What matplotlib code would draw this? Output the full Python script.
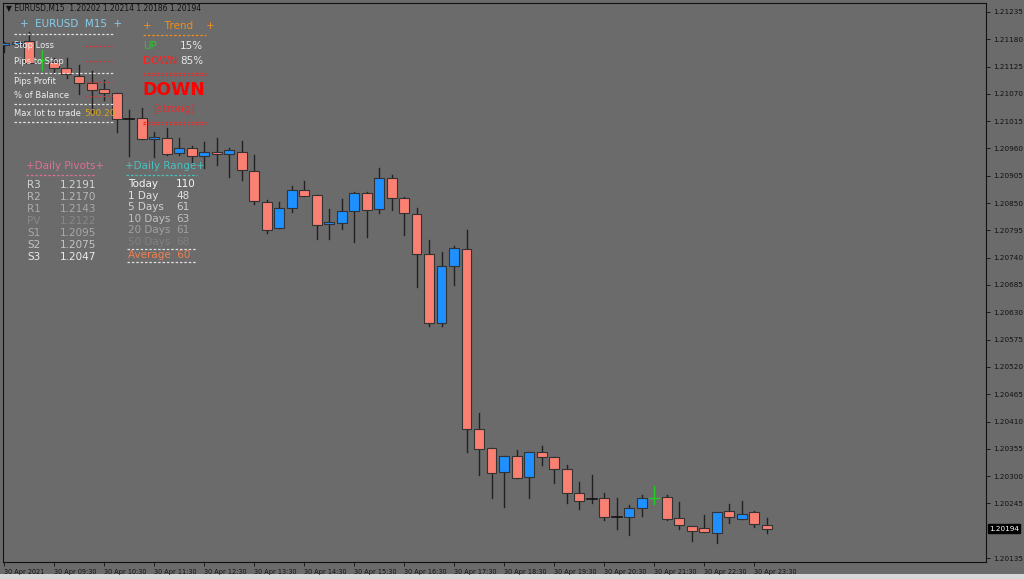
import matplotlib
matplotlib.use("Agg")
import matplotlib.pyplot as plt
from matplotlib.lines import Line2D
from matplotlib.patches import Rectangle

opens = [1.21169,1.21171,1.21177,1.21138,1.21134,1.21122,1.21106,1.21092,1.21080,1.21072,
         1.21019,1.21021,1.20979,1.20981,1.20951,1.20961,1.20945,1.20953,1.20949,1.20953,
         1.20915,1.20852,1.20800,1.20840,1.20876,1.20866,1.20808,1.20810,1.20834,1.20870,
         1.20838,1.20901,1.20860,1.20828,1.20748,1.20608,1.20723,1.20758,1.20395,1.20356,
         1.20308,1.20340,1.20298,1.20348,1.20338,1.20314,1.20266,1.20254,1.20256,1.20218,
         1.20218,1.20236,1.20256,1.20258,1.20216,1.20200,1.20196,1.20186,1.20230,1.20214,
         1.20228,1.20202]
highs = [1.21175,1.21177,1.21195,1.21158,1.21142,1.21142,1.21128,1.21116,1.21098,1.21072,
         1.21038,1.21042,1.20993,1.21001,1.20981,1.20965,1.20973,1.20981,1.20961,1.20975,
         1.20947,1.20856,1.20852,1.20884,1.20895,1.20866,1.20838,1.20858,1.20872,1.20872,
         1.20921,1.20907,1.20862,1.20840,1.20776,1.20752,1.20764,1.20796,1.20427,1.20356,
         1.20340,1.20352,1.20348,1.20360,1.20338,1.20322,1.20288,1.20302,1.20266,1.20256,
         1.20242,1.20262,1.20280,1.20262,1.20248,1.20200,1.20222,1.20228,1.20244,1.20250,
         1.20230,1.20216]
lows = [1.21154,1.21169,1.21132,1.21118,1.21114,1.21102,1.21070,1.21034,1.21058,1.20993,
        1.20945,1.20979,1.20943,1.20947,1.20947,1.20931,1.20921,1.20927,1.20903,1.20897,
        1.20848,1.20790,1.20800,1.20832,1.20864,1.20778,1.20778,1.20798,1.20772,1.20782,
        1.20830,1.20836,1.20786,1.20681,1.20602,1.20602,1.20685,1.20348,1.20302,1.20256,
        1.20238,1.20296,1.20256,1.20322,1.20286,1.20246,1.20234,1.20246,1.20212,1.20194,
        1.20182,1.20220,1.20244,1.20212,1.20194,1.20169,1.20188,1.20165,1.20206,1.20214,
        1.20198,1.20186]
closes = [1.21173,1.21175,1.21132,1.21138,1.21122,1.21110,1.21092,1.21078,1.21072,1.21019,
          1.21019,1.20979,1.20983,1.20949,1.20961,1.20945,1.20953,1.20949,1.20957,1.20917,
          1.20854,1.20796,1.20840,1.20876,1.20864,1.20806,1.20812,1.20834,1.20870,1.20836,
          1.20901,1.20860,1.20830,1.20748,1.20608,1.20723,1.20760,1.20395,1.20354,1.20306,
          1.20340,1.20296,1.20348,1.20338,1.20314,1.20266,1.20250,1.20254,1.20218,1.20218,
          1.20236,1.20256,1.20256,1.20214,1.20202,1.20190,1.20188,1.20228,1.20218,1.20224,
          1.20204,1.20194]
signal_bars = [3, 52]
time_labels = ["30 Apr 2021", "30 Apr 09:30", "30 Apr 10:30", "30 Apr 11:30", "30 Apr 12:30",
               "30 Apr 13:30", "30 Apr 14:30", "30 Apr 15:30", "30 Apr 16:30", "30 Apr 17:30",
               "30 Apr 18:30", "30 Apr 19:30", "30 Apr 20:30", "30 Apr 21:30", "30 Apr 22:30",
               "30 Apr 23:30"]
price_ticks = [1.21235,1.21180,1.21125,1.21070,1.21015,1.20960,1.20905,1.20850,1.20795,1.20740,
               1.20685,1.20630,1.20575,1.20520,1.20465,1.20410,1.20355,1.20300,1.20245,1.20135]
last_price = 1.20194
pivot_names = ["R3","R2","R1","PV","S1","S2","S3"]
pivot_values = ["1.2191","1.2170","1.2143","1.2122","1.2095","1.2075","1.2047"]
range_names = ["Today","1 Day","5 Days","10 Days","20 Days","50 Days"]
range_values = ["110","48","61","63","61","68"]

W, H = 1024, 579
fig = plt.figure(figsize=(W/100, H/100), dpi=100, facecolor="#6b6b6b")
fig.add_artist(Rectangle((0, 0), 1, 5/H, transform=fig.transFigure, fc="#d8d8d8", ec="none", zorder=-5))
ax = fig.add_axes([3/W, 1-562/H, 983/W, 559/H], facecolor="#6b6b6b")
ax.set_xlim(-0.08, 78.56)
ax.set_ylim(1.20127, 1.21253)
for s in ax.spines.values():
    s.set_color("#111111"); s.set_linewidth(0.8)

RED, BLUE, EDGE = "#fa8072", "#1e90ff", "#333333"
for i in range(len(opens)):
    o, h, l, c = opens[i], highs[i], lows[i], closes[i]
    if i in signal_bars:
        ax.plot([i, i], [l, h], color="#22cc22", lw=1.0, zorder=3)
        ax.plot([i-0.4, i+0.4], [o, o], color="#22cc22", lw=1.0, zorder=3)
        continue
    ax.plot([i, i], [l, h], color="#222222", lw=1.0, zorder=2)
    if o == c:
        ax.plot([i-0.4, i+0.4], [o, o], color="#111111", lw=1.2, zorder=3)
        continue
    col = BLUE if c > o else RED
    ax.add_patch(Rectangle((i-0.4, min(o, c)), 0.8, abs(c-o), facecolor=col,
                           edgecolor=EDGE, lw=0.8, zorder=3))

ax.yaxis.tick_right()
ax.set_yticks(price_ticks)
ax.set_yticklabels([f"{p:.5f}" for p in price_ticks], fontsize=5.2, color="#111111")
ax.set_xticks(list(range(0, 4*len(time_labels), 4)))
ax.set_xticklabels(time_labels, fontsize=4.7, color="#111111", ha="left")
ax.tick_params(axis="both", length=3, width=0.6, color="#111111", pad=2)
ax.text(1.003, last_price, f"{last_price:.5f}", transform=ax.get_yaxis_transform(),
        fontsize=5.2, color="white", va="center", ha="left",
        bbox=dict(boxstyle="square,pad=0.2", fc="black", ec="black"))

def T(x, y, s, color, size=6.5, **kw):
    fig.text(x/W, 1-y/H, s, color=color, fontsize=size, va="center", **kw)

def L(x0, x1, y, color, ls=(0, (2, 1.5)), lw=0.9):
    fig.add_artist(Line2D([x0/W, x1/W], [1-y/H, 1-y/H], color=color, lw=lw, ls=ls,
                          transform=fig.transFigure))

T(6, 9, "▼ EURUSD,M15  1.20202 1.20214 1.20186 1.20194", "#111111", 5.5)
T(20, 24, "+  EURUSD  M15  +", "#87ceeb", 7.5)
L(14, 114, 34, "#e0e0e0")
T(14, 46, "Stop Loss", "#eeeeee", 6)
T(14, 61, "Pips to Stop", "#eeeeee", 6)
L(85, 112, 46, "#e03030"); L(85, 112, 61, "#c04040")
L(14, 114, 73, "#e0e0e0")
T(14, 82, "Pips Profit", "#eeeeee", 6)
T(14, 96, "% of Balance", "#eeeeee", 6)
L(85, 112, 82, "#c04040"); L(85, 112, 96, "#c04040")
L(14, 114, 104, "#e0e0e0")
T(14, 114, "Max lot to trade", "#eeeeee", 6)
T(84, 114, "500.20", "#daa520", 6.5)
L(14, 114, 122, "#e0e0e0")

T(143, 26, "+    Trend    +", "#f0901a", 7.5)
L(143, 206, 35, "#f0901a")
T(143, 46, "UP", "#22cc22", 7.5)
T(180, 46, "15%", "#e8e8e8", 7.5)
T(143, 61, "DOWN", "#ff2020", 7.5)
T(180, 61, "85%", "#e8e8e8", 7.5)
L(143, 206, 73, "#e03030"); L(143, 206, 75, "#e03030")
fig.text(174/W, 1-90/H, "DOWN", color="#ff0000", fontsize=12.5, fontweight="bold",
         ha="center", va="center")
fig.text(174/W, 1-109/H, "[strong]", color="#e03030", fontsize=7.5, ha="center", va="center")
L(143, 206, 122, "#e03030"); L(143, 206, 124, "#e03030")

T(26, 166, "+Daily Pivots+", "#db7093", 7.5)
L(26, 96, 175, "#db7093")
pcols = ["#d3d3d3", "#b8b8b8", "#a8a8a8", "#888888", "#a8a8a8", "#c4c4c4", "#ececec"]
for k, (n, v) in enumerate(zip(pivot_names, pivot_values)):
    y = 185 + 12*k
    T(27, y, n, pcols[k], 7.5)
    T(60, y, v, pcols[k], 7.5)

T(125, 166, "+Daily Range+", "#48c0c0", 7.5)
L(126, 197, 175, "#48c0c0")
rcols = ["#f5f5f5", "#e0e0e0", "#d0d0d0", "#c0c0c0", "#a0a0a0", "#808080"]
for k, (n, v) in enumerate(zip(range_names, range_values)):
    y = 184 + 11.6*k
    T(128, y, n, rcols[k], 7.5)
    T(176, y, v, rcols[k], 7.5)
L(127, 197, 249, "#e0e0e0")
T(128, 255, "Average  60", "#f08050", 7.5)
L(127, 197, 262, "#e0e0e0")

fig.savefig("out.png", dpi=100, facecolor=fig.get_facecolor())
